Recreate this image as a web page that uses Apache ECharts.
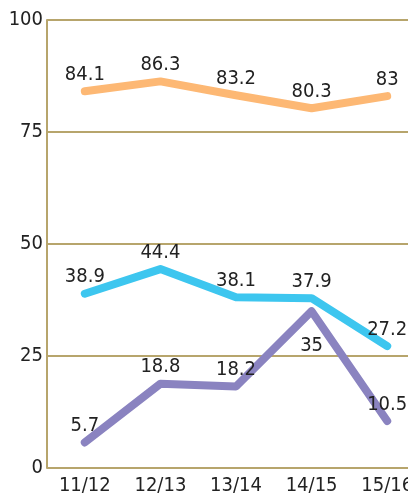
<!DOCTYPE html>
<html>
<head>
<meta charset="utf-8">
<script src="https://cdn.jsdelivr.net/npm/echarts@6/dist/echarts.min.js"></script>
<style>
  html, body { margin: 0; padding: 0; background: #fff; overflow: hidden; }
  /* plot runs past the right edge of the window, as in the original */
  #main { width: 425px; height: 496px; }
</style>
</head>
<body>
<div id="main"></div>
<script>
// categories and values
var years = ['11/12', '12/13', '13/14', '14/15', '15/16'];
var orangeVals = [84.1, 86.3, 83.2, 80.3, 83];
var blueVals = [38.9, 44.4, 38.1, 37.9, 27.2];
var purpleVals = [5.7, 18.8, 18.2, 35, 10.5];
var yTicks = [0, 25, 50, 75, 100];

var font = "'DejaVu Sans Condensed', 'Roboto', sans-serif";
var gridColor = '#b7a56c';

function lineSeries(name, vals, color, labelPos) {
  return {
    name: name,
    type: 'line',
    data: vals.map(function (v, i) {
      var d = { value: v };
      if (labelPos && labelPos[i]) d.label = labelPos[i];
      return d;
    }),
    symbol: 'circle',
    symbolSize: 1,
    showSymbol: true,
    itemStyle: { color: color },
    lineStyle: { width: 8, color: color, cap: 'round', join: 'round' },
    label: {
      show: true,
      position: 'top',
      distance: 6,
      color: '#222',
      fontSize: 20,
      fontFamily: font
    },
    z: 3
  };
}

var myChart = echarts.init(document.getElementById('main'));
myChart.setOption({
  animation: false,
  grid: { left: 47, right: 0, top: 20, bottom: 23, containLabel: false },
  xAxis: {
    type: 'category',
    data: years,
    boundaryGap: true,
    axisLine: { show: false },
    axisTick: { show: false },
    axisLabel: { color: '#222', fontSize: 20, fontFamily: font, margin: 8, interval: 0 }
  },
  yAxis: {
    type: 'value',
    min: yTicks[0],
    max: yTicks[yTicks.length - 1],
    interval: 25,
    axisLine: { show: true, lineStyle: { color: gridColor, width: 2 } },
    axisTick: { show: false },
    splitLine: { lineStyle: { color: gridColor, width: 2 } },
    axisLabel: { color: '#222', fontSize: 20, fontFamily: font, margin: 4 }
  },
  series: [
    lineSeries('orange', orangeVals, '#fdb874'),
    lineSeries('blue', blueVals, '#3dc6ef'),
    lineSeries('purple', purpleVals, '#8a83c0', {
      3: { position: 'bottom', distance: 24 }
    })
  ]
});
</script>
</body>
</html>
